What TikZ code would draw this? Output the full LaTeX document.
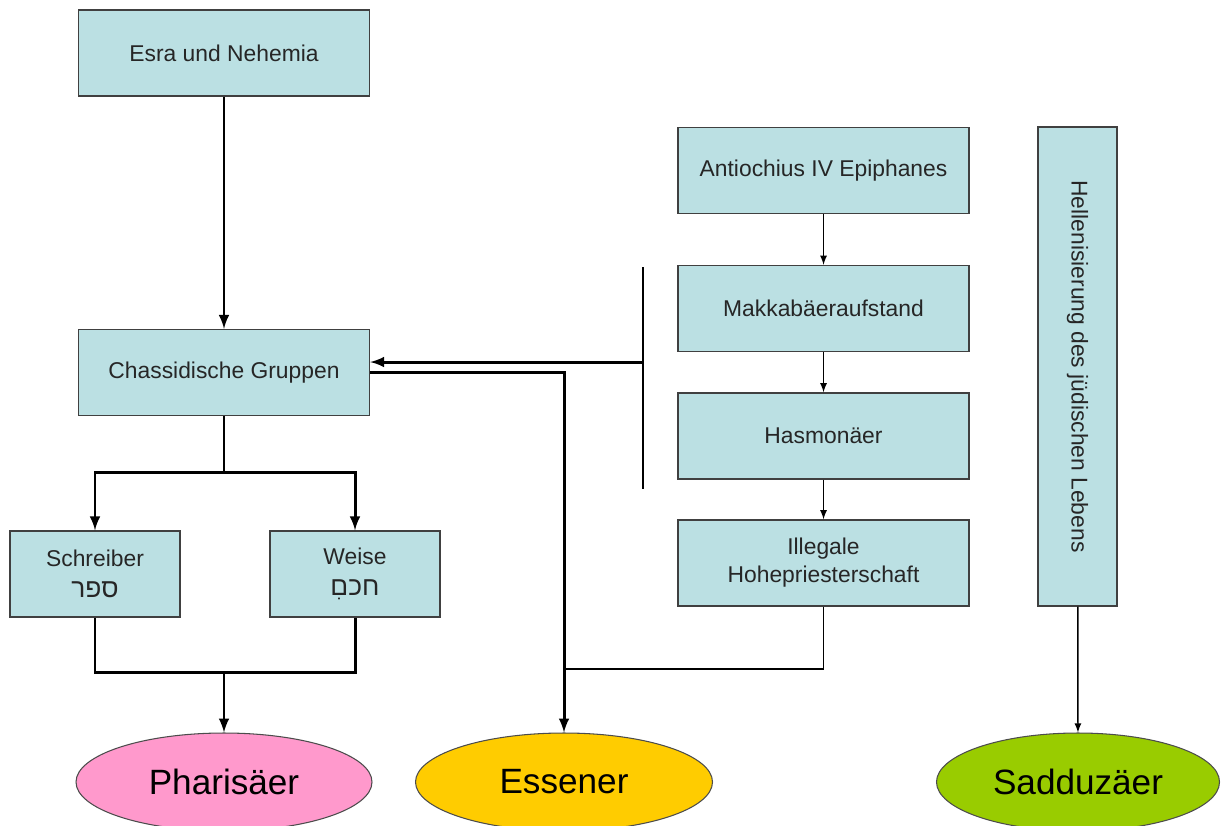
\documentclass[tikz,border=0pt]{standalone}
\usepackage{fontspec}
\setmainfont{Liberation Sans}
\newfontfamily\hebfont[Script=Hebrew]{Liberation Sans}
\TeXXeTstate=1
\usetikzlibrary{positioning,shapes,arrows}
\definecolor{boxblue}{HTML}{BBE0E3}
\definecolor{pharpink}{HTML}{FF99CC}
\definecolor{essyellow}{HTML}{FFCC00}
\definecolor{saddgreen}{HTML}{99CC00}
\tikzstyle{group}=[draw=black!75,fill=boxblue,line width=0.8pt,text=black!85,
  minimum width=5.82cm,minimum height=1.72cm,align=center,inner sep=2pt,
  font=\fontsize{13}{16}\selectfont]
\tikzstyle{sect}=[draw=black!70,ellipse,line width=0.6pt,minimum height=1.96cm,
  font=\fontsize{20}{24}\selectfont]
\tikzstyle{heavy}=[line width=1.7pt]
\tikzstyle{light}=[line width=0.8pt]
\newcommand{\newGroup}[4]{\node[group,#3](#1) at #4 {#2};}
\newcommand{\newSect}[4]{\node[sect,#3](#1) at #4 {#2};}
\newcommand{\heb}[1]{{\hebfont\fontsize{15}{18}\selectfont\beginR #1\endR}}

\begin{document}
\begin{tikzpicture}[>=latex]
      \useasboundingbox (0,0) rectangle (24.52,-16.5);
      % left column
      \newGroup{esra}{Esra und Nehemia}{}{(4.48,-1.06)}
      \newGroup{chass}{Chassidische Gruppen}{}{(4.48,-7.45)}
      \newGroup{schreiber}{Schreiber\\[2pt]\heb{ספר}}{minimum width=3.4cm}{(1.9,-11.48)}
      \newGroup{weise}{Weise\\[2pt]\heb{חכםִ}}{minimum width=3.4cm}{(7.1,-11.48)}
      % right column
      \newGroup{antio}{Antiochius IV Epiphanes}{}{(16.47,-3.41)}
      \newGroup{makka}{Makkabäeraufstand}{}{(16.47,-6.17)}
      \newGroup{hasmo}{Hasmonäer}{}{(16.47,-8.72)}
      \newGroup{illegal}{Illegale\\Hohepriesterschaft}{}{(16.47,-11.26)}
      \newGroup{hellen}{Hellenisierung des jüdischen Lebens}{rotate=-90,minimum width=9.58cm,minimum height=1.58cm}{(21.55,-7.33)}
      % sects
      \newSect{phar}{Pharisäer}{fill=pharpink,minimum width=5.92cm}{(4.48,-15.64)}
      \newSect{ess}{Essener}{fill=essyellow,minimum width=5.94cm}{(11.28,-15.64)}
      \newSect{sadd}{Sadduzäer}{fill=saddgreen,minimum width=5.66cm}{(21.56,-15.64)}
      % joints
      \coordinate (cj) at (4.48,-9.44);
      \coordinate (pj) at (4.48,-13.44);
      \coordinate (ej) at (11.28,-13.38);
      \coordinate (bt) at (12.86,-5.34);
      \coordinate (bb) at (12.86,-9.78);
      \coordinate (bm) at (12.86,-7.24);
      % connectors
      \draw[->,heavy] (esra) -- (chass);
      \draw[heavy] (chass) -- (cj);
      \draw[->,heavy] (cj) -| (schreiber);
      \draw[->,heavy] (cj) -| (weise);
      \draw[heavy] (schreiber) |- (pj) -| (weise);
      \draw[->,heavy] (pj) -- (phar);
      \draw[light] (bt) -- (bb);
      \draw[->,heavy] (bm) -- (bm -| chass.east);
      \draw[->,heavy] (chass.east) -| (ess);
      \draw[light] (illegal) |- (ej);
      \draw[->,light] (antio) -- (makka);
      \draw[->,light] (makka) -- (hasmo);
      \draw[->,light] (hasmo) -- (illegal);
      \draw[->,light] (hellen) -- (sadd);
    \end{tikzpicture}
\end{document}
